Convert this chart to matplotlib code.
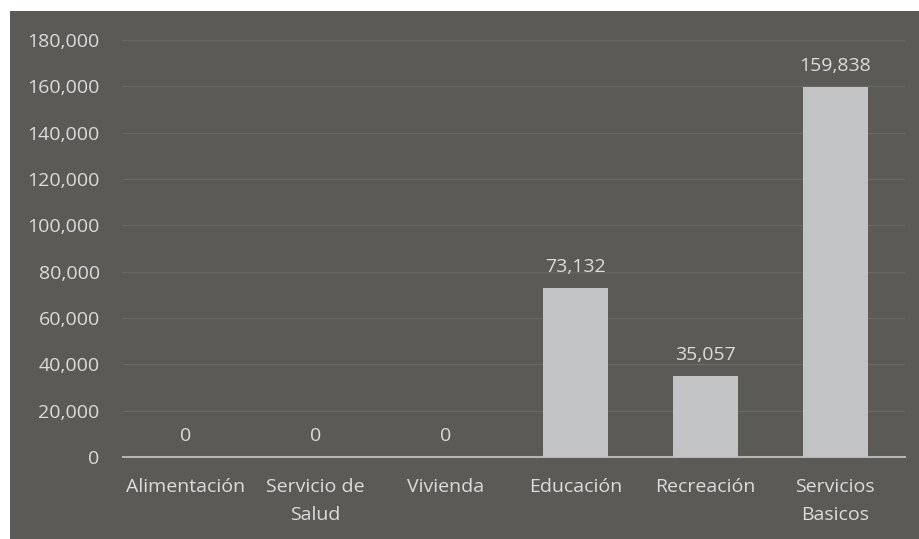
import matplotlib.pyplot as plt
from matplotlib.patches import Rectangle
from matplotlib.ticker import FuncFormatter

categorias = ["Alimentación", "Servicio de\nSalud", "Vivienda", "Educación", "Recreación", "Servicios\nBasicos"]
valores = [0, 0, 0, 73132, 35057, 159838]

fondo = "#5c5a57"
texto = "#dcdcdc"

plt.rcParams['font.family'] = ['Open Sans', 'DejaVu Sans']

fig = plt.figure(figsize=(9.2, 5.39), dpi=100, facecolor="white")
# recuadro oscuro del grafico (el escaneo deja un borde blanco arriba y a la izquierda)
fig.add_artist(Rectangle((10 / 920, 0), 1, 1 - 11 / 539, transform=fig.transFigure,
                         facecolor=fondo, edgecolor="none", zorder=-10))

ax = fig.add_axes([0.134, 0.152, 0.85, 0.774])
ax.set_facecolor("none")

x = range(len(categorias))
bars = ax.bar(x, valores, width=0.5, color="#c2c3c4", zorder=3)

for b, v in zip(bars, valores):
    ax.text(b.get_x() + b.get_width() / 2, v + 5000, f"{v:,}", ha="center", va="bottom",
            color=texto, fontsize=14)

ax.set_xlim(-0.48, 5.54)
ax.set_ylim(0, 180000)
ax.set_yticks(range(0, 180001, 20000))
ax.yaxis.set_major_formatter(FuncFormatter(lambda v, p: f"{int(v):,}"))
ax.set_xticks(list(x))
ax.set_xticklabels(categorias, linespacing=1.7)

ax.tick_params(axis="both", colors=texto, labelsize=14, length=0)
ax.tick_params(axis="x", pad=15)
ax.tick_params(axis="y", pad=17)

ax.grid(axis="y", color="#6b6966", linewidth=0.9, zorder=1)
for s in ["top", "right", "left"]:
    ax.spines[s].set_visible(False)
ax.spines["bottom"].set_color("#b5b5b3")
ax.spines["bottom"].set_linewidth(1.5)

fig.savefig("out.png", dpi=100, facecolor="white")
